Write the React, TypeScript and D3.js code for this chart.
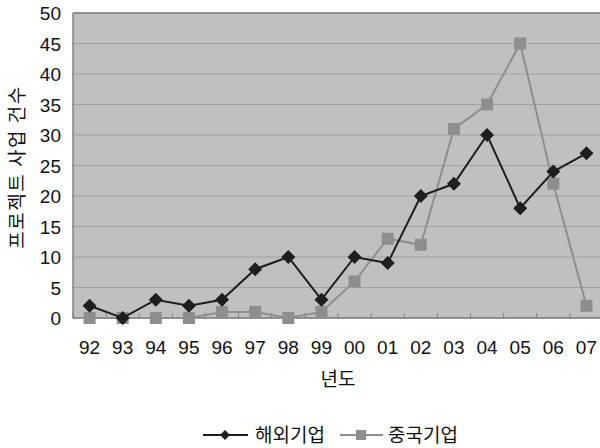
import React from "react";
import * as d3 from "d3";

const years = ["92","93","94","95","96","97","98","99","00","01","02","03","04","05","06","07"];
const foreign = [2,0,3,2,3,8,10,3,10,9,20,22,30,18,24,27];
const china = [0,0,0,0,1,1,0,1,6,13,12,31,35,45,22,2];
const yTicks = [0,5,10,15,20,25,30,35,40,45,50];
const seriesNames = ["해외기업","중국기업"];

export default function App() {
  const W = 600, H = 448;
  const left = 73, right = 603, top = 13, bottom = 318;
  const x = d3.scaleBand().domain(years).range([left, right]);
  const y = d3.scaleLinear().domain([0, 50]).range([bottom, top]);
  const cx = (d: string) => (x(d) as number) + x.bandwidth() / 2;
  const line = d3.line<number>().x((_, i) => cx(years[i])).y(v => y(v));
  const numFont = "'Liberation Sans', Arial, sans-serif";
  const krFont = "'Noto Sans CJK KR', sans-serif";
  const black = "#1e1e1e", gray = "#8e8e8e";
  return (
    <svg width={W} height={H} style={{ position: "absolute", left: 0, top: 0 }}>
      <rect x={0} y={0} width={W} height={H} fill="#fff" />
      <rect x={left} y={top} width={right - left} height={bottom - top} fill="#c0c0c0" />
      {yTicks.map(t => (
        <line key={t} x1={left} x2={right} y1={y(t)} y2={y(t)} stroke="#a2a2a2" strokeWidth={1} />
      ))}
      <line x1={left} x2={right} y1={top} y2={top} stroke="#808080" strokeWidth={1.5} />
      <line x1={left} x2={left} y1={top} y2={bottom} stroke="#808080" strokeWidth={1.5} />
      <line x1={left} x2={right} y1={bottom} y2={bottom} stroke="#808080" strokeWidth={1.5} />
      {years.map(d => (
        <line key={d} x1={x(d) as number} x2={x(d) as number} y1={bottom} y2={bottom - 5} stroke="#808080" strokeWidth={1} />
      ))}
      {yTicks.map(t => (
        <text key={t} x={61} y={y(t) + 7} textAnchor="end" fontFamily={numFont} fontSize={19} fill="#111">{t}</text>
      ))}
      {years.map(d => (
        <text key={d} x={cx(d)} y={354} textAnchor="middle" fontFamily={numFont} fontSize={19} fill="#111">{d}</text>
      ))}
      <text x={338} y={386} textAnchor="middle" fontFamily={krFont} fontSize={19} fill="#111">년도</text>
      <text transform={`translate(24,167) rotate(-90)`} textAnchor="middle" fontFamily={krFont} fontSize={19} letterSpacing={1.5} fill="#111">프로젝트 사업 건수</text>
      <path d={line(china) || ""} fill="none" stroke={gray} strokeWidth={2} />
      {china.map((v, i) => (
        <rect key={i} x={cx(years[i]) - 6} y={y(v) - 6} width={12} height={12} fill={gray} />
      ))}
      <path d={line(foreign) || ""} fill="none" stroke={black} strokeWidth={2} />
      {foreign.map((v, i) => (
        <path key={i} d="M0,-7L7,0L0,7L-7,0Z" transform={`translate(${cx(years[i])},${y(v)})`} fill={black} />
      ))}
      <g>
        <line x1={203} x2={248} y1={435} y2={435} stroke={black} strokeWidth={2} />
        <path d="M0,-5L5,0L0,5L-5,0Z" transform="translate(225,435)" fill={black} />
        <text x={255} y={442} fontFamily={krFont} fontSize={19} fill="#111">{seriesNames[0]}</text>
        <line x1={340} x2={383} y1={435} y2={435} stroke={gray} strokeWidth={2} />
        <rect x={356} y={430} width={10} height={10} fill={gray} />
        <text x={388} y={442} fontFamily={krFont} fontSize={19} fill="#111">{seriesNames[1]}</text>
      </g>
    </svg>
  );
}
